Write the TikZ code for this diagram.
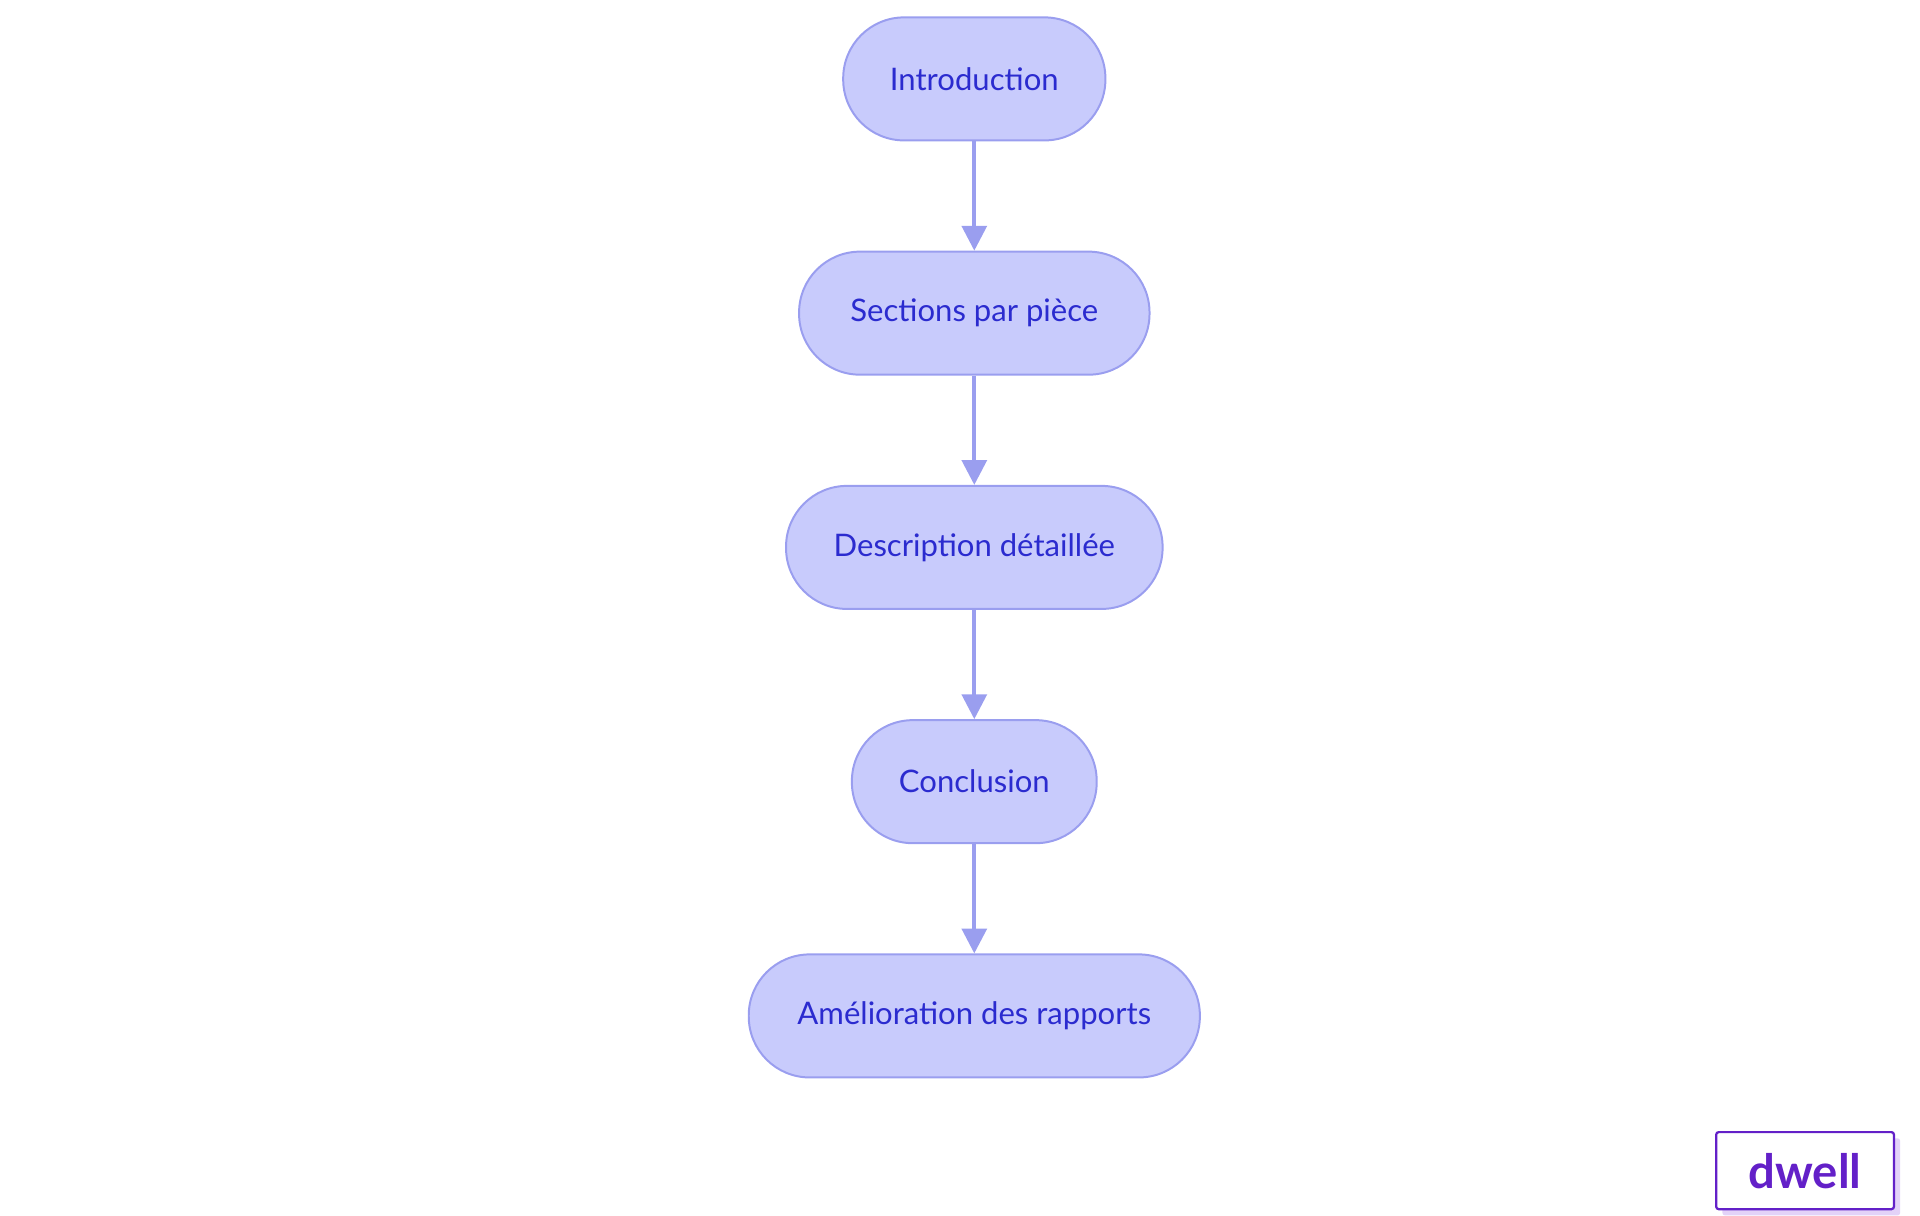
\documentclass[tikz,border=0pt]{standalone}
\usepackage{fontspec}
\setmainfont{Lato}
\usetikzlibrary{arrows.meta}
\definecolor{nfill}{HTML}{C8CBFC}
\definecolor{nline}{HTML}{9A9EEF}
\definecolor{ntext}{HTML}{2B2BCF}
\definecolor{dw}{HTML}{6320C8}
\definecolor{dwsh}{HTML}{E3D2F8}
\begin{document}
\begin{tikzpicture}[x=0.5pt,y=-0.5pt,
  box/.style={draw=nline,fill=nfill,line width=0.8pt,rounded corners=24.5pt,text=ntext,font=\fontsize{12.5}{14}\selectfont,inner sep=0pt,minimum height=49.5pt},
  arr/.style={draw=nline,line width=1.5pt,-{Triangle[length=10pt,width=10pt]}}]
\useasboundingbox (0,0) rectangle (1545,978);
\node[box,minimum width=105.5pt] (a) at (784,63.5) {Introduction};
\node[box,minimum width=141pt] (b) at (784,252) {Sections par pièce};
\node[box,minimum width=151.5pt] (c) at (784,440.5) {Description détaillée};
\node[box,minimum width=98.5pt] (d) at (784,629) {Conclusion};
\node[box,minimum width=181.5pt] (e) at (784,817.5) {Amélioration des rapports};
\draw[arr] (a) -- (b);
\draw[arr] (b) -- (c);
\draw[arr] (c) -- (d);
\draw[arr] (d) -- (e);
\fill[dwsh,rounded corners=1pt] (1386,916) rectangle (1529,978);
\node[draw=dw,fill=white,line width=0.9pt,rounded corners=1pt,minimum width=71.5pt,minimum height=31pt,inner sep=0pt,text=dw,font=\fontsize{19}{20}\bfseries\selectfont] (logo) at (1452.5,942) {dwell};
\end{tikzpicture}
\end{document}
